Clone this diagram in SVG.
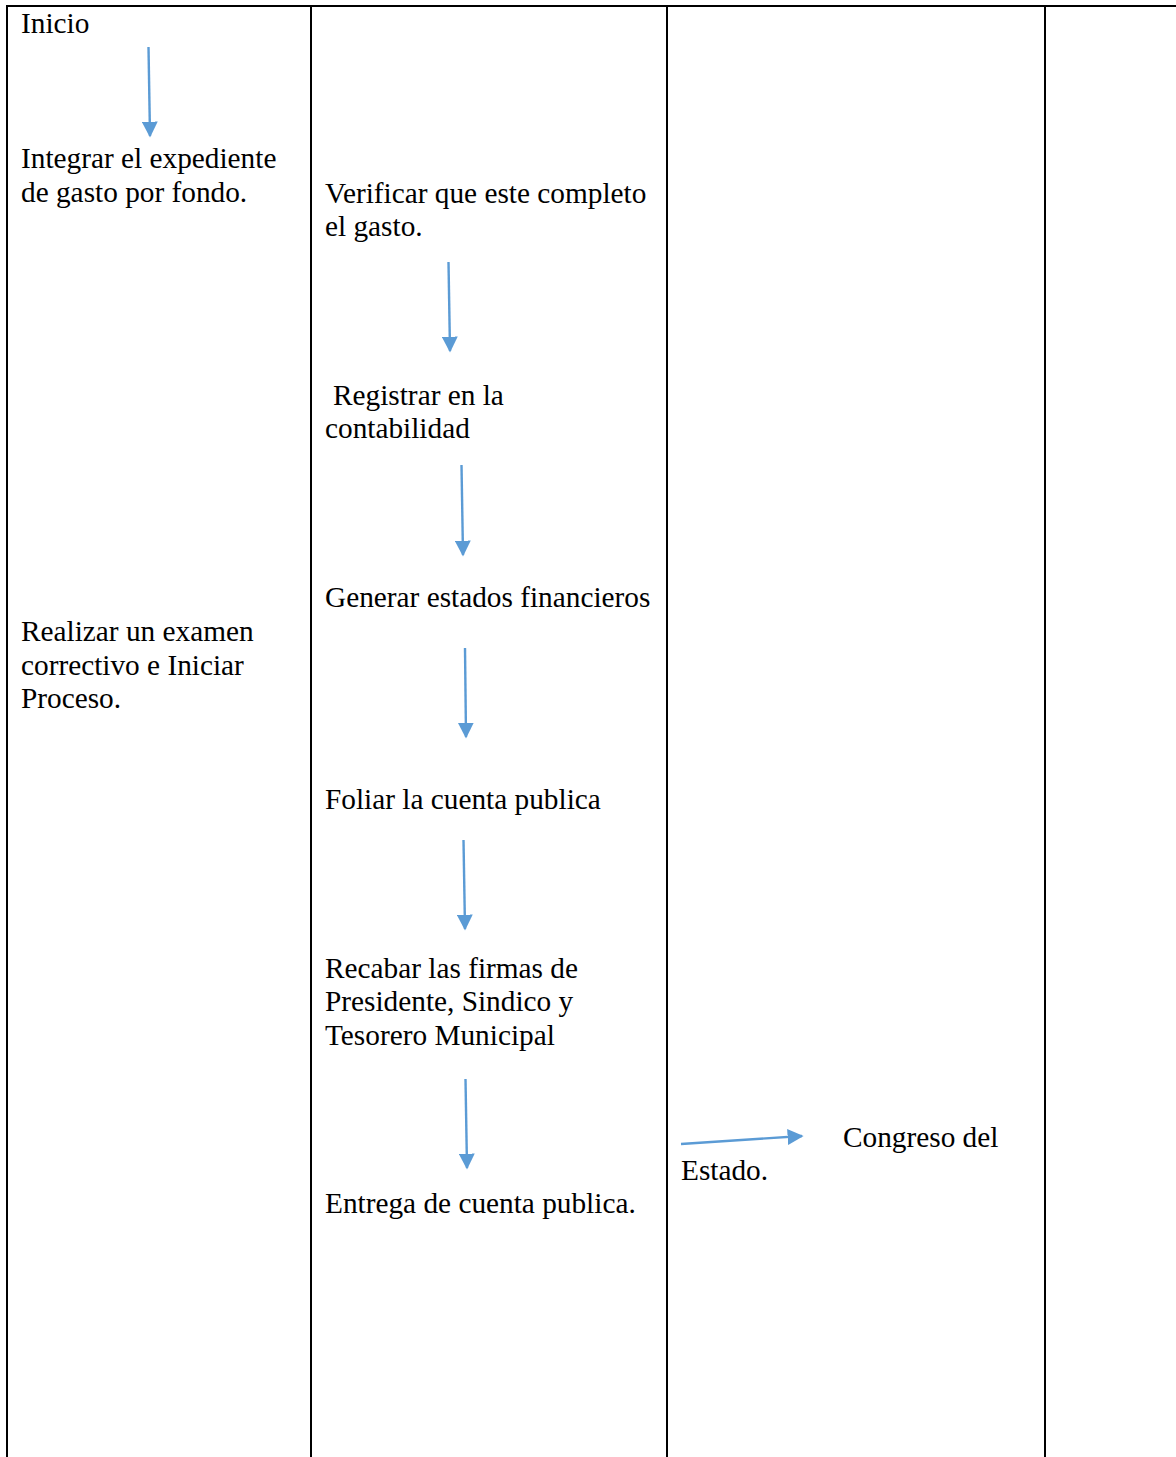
<svg xmlns="http://www.w3.org/2000/svg" width="1176" height="1457" viewBox="0 0 1176 1457">
  <style>
    .grid { stroke: #000; stroke-width: 2; fill: none; }
    .txt { font-family: "Liberation Serif", "Times New Roman", serif; font-size: 29.3px; fill: #000; }
    .flow { stroke: #5B9BD5; stroke-width: 2.4; fill: none; marker-end: url(#head); }
  </style>
  <defs>
    <marker id="head" viewBox="0 0 10 10" refX="9" refY="5" markerUnits="userSpaceOnUse" markerWidth="16" markerHeight="16" orient="auto">
      <path d="M0,0 L10,5 L0,10 Z" fill="#5B9BD5"/>
    </marker>
  </defs>
  <rect width="1176" height="1457" fill="#fff"/>

  <!-- table frame -->
  <g id="table">
    <line class="grid" x1="6" y1="6" x2="1176" y2="6"/>
    <line class="grid" x1="7" y1="5" x2="7" y2="1457"/>
    <line class="grid" x1="311" y1="5" x2="311" y2="1457"/>
    <line class="grid" x1="667" y1="5" x2="667" y2="1457"/>
    <line class="grid" x1="1045" y1="5" x2="1045" y2="1457"/>
  </g>

  <!-- connectors -->
  <g id="connectors">
    <line class="flow" x1="148.5" y1="47" x2="150" y2="136"/>
    <line class="flow" x1="448.5" y1="262" x2="450" y2="351"/>
    <line class="flow" x1="461.5" y1="465" x2="463" y2="555"/>
    <line class="flow" x1="465" y1="648" x2="466" y2="737"/>
    <line class="flow" x1="463.5" y1="840" x2="465" y2="929"/>
    <line class="flow" x1="465.5" y1="1079" x2="467" y2="1168"/>
    <line class="flow" x1="681" y1="1144" x2="802" y2="1136"/>
  </g>

  <!-- first column -->
  <g id="inicio"><text class="txt" x="21" y="33">Inicio</text></g>
  <g id="integrar">
    <text class="txt" x="21" y="168">Integrar el expediente</text>
    <text class="txt" x="21" y="202">de gasto por fondo.</text>
  </g>
  <g id="realizar">
    <text class="txt" x="21" y="641">Realizar un examen</text>
    <text class="txt" x="21" y="675">correctivo e Iniciar</text>
    <text class="txt" x="21" y="708">Proceso.</text>
  </g>

  <!-- second column -->
  <g id="verificar">
    <text class="txt" x="325" y="203">Verificar que este completo</text>
    <text class="txt" x="325" y="236">el gasto.</text>
  </g>
  <g id="registrar">
    <text class="txt" x="333" y="405">Registrar en la</text>
    <text class="txt" x="325" y="438">contabilidad</text>
  </g>
  <g id="generar"><text class="txt" x="325" y="607">Generar estados financieros</text></g>
  <g id="foliar"><text class="txt" x="325" y="809">Foliar la cuenta publica</text></g>
  <g id="recabar">
    <text class="txt" x="325" y="978">Recabar las firmas de</text>
    <text class="txt" x="325" y="1011">Presidente, Sindico y</text>
    <text class="txt" x="325" y="1045">Tesorero Municipal</text>
  </g>
  <g id="entrega"><text class="txt" x="325" y="1213">Entrega de cuenta publica.</text></g>

  <!-- third column -->
  <g id="congreso">
    <text class="txt" x="843" y="1147">Congreso del</text>
    <text class="txt" x="681" y="1180">Estado.</text>
  </g>
</svg>
